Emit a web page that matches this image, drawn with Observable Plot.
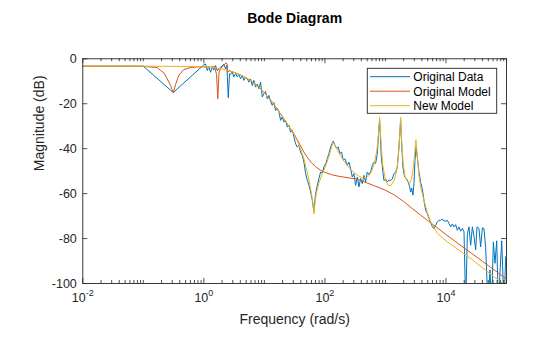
<!DOCTYPE html>
<html><head><meta charset="utf-8">
<script src="https://cdn.jsdelivr.net/npm/d3@7"></script>
<script src="https://cdn.jsdelivr.net/npm/@observablehq/plot@0.6"></script>
<style>body{margin:0;background:#fff}</style>
</head><body><div id="chart"></div>
<script>
// ---- Data (frequency in rad/s, magnitude in dB) ----
const dataFreq = [0.01,0.1,0.312,1.0,1.067,1.138,1.21,1.29,1.377,1.462,1.56,1.663,1.77,1.888,2.014,2.143,2.285,2.40,2.53,2.66,2.76,2.94,3.13,3.34,3.56,3.79,4.04,4.31,4.58,4.89,5.21,5.55,5.91,6.31,6.70,7.15,7.62,8.11,8.65,9.22,9.82,10.47,11.17,11.86,12.65,13.49,14.35,15.31,16.31,17.38,18.54,19.77,21.0,22.4,23.9,25.4,27.1,28.9,30.8,32.8,34.9,37.2,39.6,42.3,45.0,48.0,51.2,54.5,58.1,61.9,65.8,70.2,74.8,79.6,84.9,90.6,96.2,102.8,109.6,116.4,124.2,132.4,137.7,146.2,156,166.3,177,188.8,201.4,214.3,234.5,249.5,266.1,283.8,301.3,321.4,343.6,364.8,389,415,441.6,471,502,533.4,568.9,606.7,645.7,688.7,734.5,781.6,801.7,855,899.5,944,1007,1074,1143,1219,1300,1380,1472,1570,1671,1782,1853,1945,2075,2213,2355,2512,2612,2710,2851,2958,3076,3192,3365,3581,3819,4074,4325,4613,4932,5236,5585,5957,6339,6761,7211,7656,8166,8710,9268,9886,10540,11220,11970,12760,13550,14450,15420,16410,17500,18660,19860,21180,22590,23990,25590,27290,29040,30970,32510,35080,37410,39990,42460,45290,49430,53330,56890,60670,64570,68870,73450,78160,83370,91000,97050,100000];
const dataMag = [-3.3,-3.3,-15.0,-2.7,-2.3,-5.2,-3.5,-6.0,-3.5,-5.0,-3.0,-5.3,-4.5,-3.8,-3.0,-2.5,-4.5,-3.0,-17.3,-6.7,-7.0,-5.8,-8.1,-6.5,-8.0,-7.0,-8.9,-7.5,-9.6,-8.2,-8.8,-10.4,-9.0,-11.9,-9.6,-12.6,-11.3,-13.3,-10.4,-17.0,-15.6,-14.5,-17.8,-16.3,-19.0,-20.7,-19.5,-23.0,-22.0,-23.7,-27.4,-25.8,-28.1,-27.5,-30.4,-29.5,-32.6,-31.9,-34.8,-37.8,-39.3,-38.5,-41.5,-43.0,-46.0,-51.1,-54.1,-56.3,-59.3,-63.0,-68.0,-60.0,-56.3,-53.3,-50.4,-50.8,-48.2,-46.7,-44.4,-42.2,-39.3,-37.5,-36.6,-38.5,-39.8,-39.3,-42.2,-41.5,-45.2,-44.5,-47.4,-46.0,-48.9,-52.6,-51.1,-56.3,-52.6,-57.0,-53.3,-55.6,-51.9,-54.8,-50.4,-51.5,-50.4,-47.4,-46.0,-46.5,-42.2,-30.4,-27.4,-43.7,-49.6,-54.1,-53.5,-54.8,-54.0,-54.1,-53.5,-51.1,-50.5,-48.2,-39.3,-27.4,-37.8,-48.2,-52.6,-53.3,-54.5,-57.0,-59.3,-57.5,-60.7,-55.6,-45.2,-39.3,-43.7,-50.4,-55.0,-58.0,-63.0,-67.4,-68.9,-71.1,-72.6,-74.8,-75.6,-74.1,-72.6,-71.9,-71.9,-71.3,-72.2,-72.2,-71.9,-73.3,-74.8,-73.5,-74.8,-73.8,-76.3,-74.8,-76.7,-75.5,-77.0,-110,-77.8,-74.8,-83.0,-74.8,-79.0,-85.0,-74.8,-75.5,-83.7,-75.2,-75.6,-84.0,-110,-94.0,-110,-81.5,-91.0,-81.0,-110,-95.0,-81.0,-110,-88.0,-88.0];

const origFreq = [0.01,0.1,0.17,0.192,0.218,0.248,0.282,0.300,0.312,0.325,0.340,0.386,0.467,0.6,0.8,1.0,1.3,1.5,1.62,1.70,1.78,1.89,2.12,2.33,2.42,2.49,2.61,2.98,4.0,5.0,6.0,8.0,10,12.5,15,20,25,30,35,40,45,50,60,70,85,100,130,170,250,340,500,670,1000,1380,2000,2650,3819,5000,10000,20000,50000,100000];
const origMag = [-3.3,-3.35,-3.9,-5.2,-6.2,-8.9,-11.9,-13.8,-15.0,-13.5,-11.5,-7.3,-4.8,-3.9,-3.6,-3.6,-3.8,-3.5,-7.0,-17.8,-6.0,-4.2,-3.0,-1.8,-2.4,-6.0,-5.2,-5.8,-7.1,-8.5,-9.8,-12.4,-15.2,-18.2,-21,-25.8,-29.8,-32.8,-36,-39,-41.5,-43.5,-46.3,-48,-49.6,-50.5,-51.6,-52.3,-53.0,-53.5,-55.3,-56.6,-58.5,-60.5,-63.5,-66.2,-69.6,-72.0,-78.2,-84.2,-92.0,-98.0];

const newFreq = [0.01,0.1,0.5,1.0,1.5,2.0,3.0,4.0,5.0,6.0,8.0,10,12.5,15,20,25,30,35,40,45,50,55,60,63,65.8,68,72,80,90,100,115,130,138,150,175,200,250,300,350,420,500,570,650,720,770,802,840,900,1000,1100,1220,1400,1550,1650,1730,1782,1840,1950,2100,2350,2510,2700,2900,3050,3190,3350,3580,3819,4325,4932,5585,7211,10000,25590,80170,100000];
const newMag = [-3.3,-3.3,-3.4,-3.6,-4.0,-4.5,-5.8,-7.1,-8.5,-9.8,-12.4,-15.2,-18.2,-21,-25.8,-29.8,-33,-36.5,-40.5,-44.5,-49.5,-54.5,-60,-64,-69,-65,-60,-55,-51.5,-48.5,-44,-39,-37,-39,-42.5,-45,-48.5,-50.5,-52,-53,-52.8,-51,-47,-41,-33,-26,-36,-47,-54,-56.3,-56.5,-54,-49,-42,-33,-26,-35,-46,-52.5,-55,-55.5,-53.5,-48,-42,-36,-43,-52,-57,-63,-68.5,-72.5,-77.7,-81,-88.9,-99.3,-101.3];

// ---- Axis ticks and labels ----
const xMajorTicks = [1e-2, 1e0, 1e2, 1e4];
const xTickExponents = ["-2", "0", "2", "4"];
const yTicks = [0, -20, -40, -60, -80, -100];
const seriesNames = ["Original Data", "Original Model", "New Model"];
const seriesColors = ["#0072BD", "#D95319", "#EDB120"];

const xMinorTicks = [];
for (let k = -2; k <= 4; k++) for (let m = 1; m <= 9; m++) {
  const v = m * Math.pow(10, k);
  if (m === 1 && k % 2 === 0) continue;
  xMinorTicks.push(v);
}
xMinorTicks.push(1e5);

const rows = (fs, ms) => fs.map((f, i) => ({f, db: ms[i]}));
const dataRows = rows(dataFreq, dataMag);
const origRows = rows(origFreq, origMag);
const newRows = rows(newFreq, newMag);

const W = 560, H = 337;
const mL = 82.3, mR = 54, mT = 58.3, mB = 54;
const fw = W - mL - mR, fh = H - mT - mB;
const axisColor = "#262626";
const font = "'Liberation Sans', Arial, Helvetica, sans-serif";
const majLen = 5, minLen = 3;
const w10 = 13.9;
const expW = e => e.length > 1 ? 8 : 5;

const svg = Plot.plot({
  width: W, height: H,
  marginLeft: mL, marginRight: mR, marginTop: mT, marginBottom: mB,
  x: {type: "log", domain: [1e-2, 1e5], axis: null},
  y: {domain: [-100, 0], axis: null},
  style: {fontFamily: font, background: "white", color: axisColor},
  marks: [
    Plot.line(dataRows, {x: "f", y: "db", stroke: seriesColors[0], strokeWidth: 1, clip: true}),
    Plot.line(origRows, {x: "f", y: "db", stroke: seriesColors[1], strokeWidth: 1, clip: true}),
    Plot.line(newRows, {x: "f", y: "db", stroke: seriesColors[2], strokeWidth: 1, clip: true}),
    // ticks inside (bottom/top)
    Plot.ruleX(xMajorTicks, {x: d => d, insetTop: fh - majLen, stroke: axisColor, strokeWidth: 0.8}),
    Plot.ruleX(xMajorTicks, {x: d => d, insetBottom: fh - majLen, stroke: axisColor, strokeWidth: 0.8}),
    Plot.ruleX(xMinorTicks, {x: d => d, insetTop: fh - minLen, stroke: axisColor, strokeWidth: 0.8}),
    Plot.ruleX(xMinorTicks, {x: d => d, insetBottom: fh - minLen, stroke: axisColor, strokeWidth: 0.8}),
    // ticks inside (left/right)
    Plot.ruleY(yTicks, {y: d => d, insetRight: fw - majLen, stroke: axisColor, strokeWidth: 0.8}),
    Plot.ruleY(yTicks, {y: d => d, insetLeft: fw - majLen, stroke: axisColor, strokeWidth: 0.8}),
    Plot.frame({stroke: axisColor, strokeWidth: 0.9}),
    // y tick labels
    Plot.text(yTicks, {x: 1e-2, y: d => d, text: d => String(d), textAnchor: "end", dx: -6, fontSize: 12.5, fill: axisColor}),
    // x tick labels: "10" + superscript exponent
    Plot.text(xMajorTicks, {x: d => d, y: -100, text: () => "10", textAnchor: "end", lineAnchor: "bottom",
      dy: 18, fontSize: 12.5, fill: axisColor}),
    Plot.text(xMajorTicks, {x: d => d, y: -100, text: (d, i) => xTickExponents[i], textAnchor: "start", lineAnchor: "bottom",
      dy: 12, fontSize: 9, fill: axisColor}),
    // axis labels and title
    Plot.text(["Frequency (rad/s)"], {text: d => d, frameAnchor: "bottom", lineAnchor: "bottom", dy: 40, fontSize: 14, fill: axisColor}),
    Plot.text(["Magnitude (dB)"], {text: d => d, frameAnchor: "left", rotate: -90, dx: -43.5, fontSize: 14, fill: axisColor}),
    Plot.text(["Bode Diagram"], {text: d => d, frameAnchor: "top", lineAnchor: "bottom", dy: -36.3, fontSize: 14, fontWeight: "bold", fill: "#000"})
  ]
});

// shift the "10" / exponent pairs so each full label is centred on its tick
const sel = d3.select(svg);
const groups = sel.selectAll("g[aria-label='text']").nodes();
[groups[1], groups[2]].forEach(g => {
  d3.select(g).selectAll("text").each(function(_, i) {
    const off = (w10 - expW(xTickExponents[i])) / 2;
    const t = d3.select(this);
    const tr = t.attr("transform");
    if (tr) t.attr("transform", tr + ` translate(${off},0)`);
    else t.attr("x", +t.attr("x") + off);
  });
});

// legend
const lg = sel.append("g").attr("font-family", font).attr("font-size", 12).attr("text-anchor", "start");
const lx = 367.3, ly = 68.3, lw = 129.4, lh = 45;
lg.append("rect").attr("x", lx).attr("y", ly).attr("width", lw).attr("height", lh)
  .attr("fill", "white").attr("stroke", axisColor).attr("stroke-width", 0.9);
seriesNames.forEach((name, i) => {
  const yy = 76.7 + i * 14.5;
  lg.append("line").attr("x1", 370).attr("x2", 410).attr("y1", yy).attr("y2", yy)
    .attr("stroke", seriesColors[i]).attr("stroke-width", 1);
  lg.append("text").attr("x", 413.3).attr("y", yy + 4.4).attr("fill", "#000")
    .attr("text-anchor", "start").text(name);
});

document.getElementById("chart").appendChild(svg);
</script></body></html>
